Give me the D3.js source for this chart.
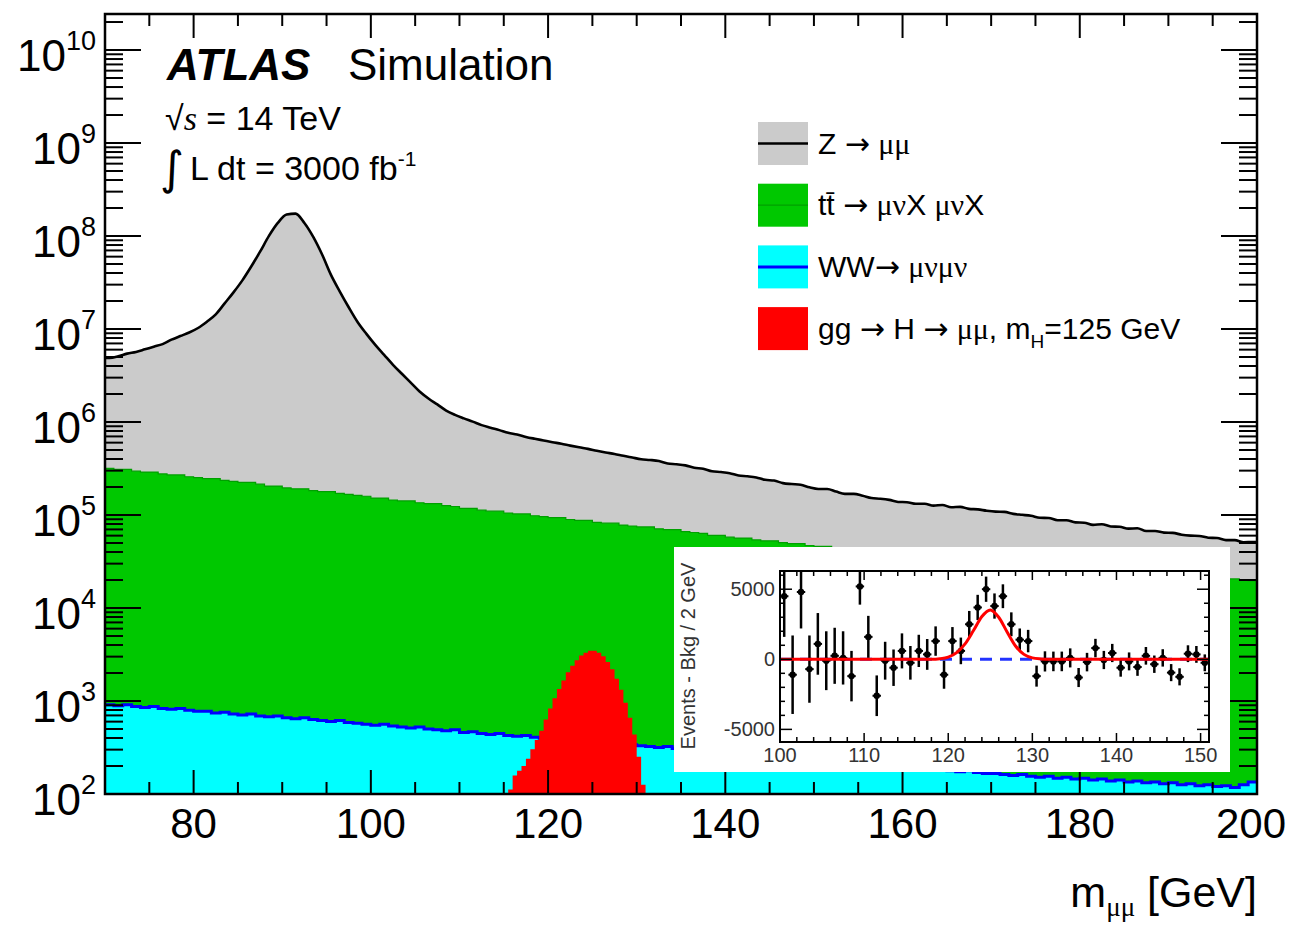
<!DOCTYPE html>
<html>
<head>
<meta charset="utf-8">
<script src="https://cdn.jsdelivr.net/npm/d3@7"></script>
<style>
    body { margin: 0; background: #fff; }
    text { font-family: "Liberation Sans", Arial, Helvetica, sans-serif; fill: #000; }
    .greek { font-family: "Liberation Serif", "Times New Roman", serif; }
    .arrow { font-family: "DejaVu Sans", sans-serif; }
</style>
</head>
<body>
<svg id="chart" width="1292" height="926"></svg>
<script>
// ---- data ----

// main histogram binning: 1 GeV bins from 70 to 200 GeV
const massLow = 70, massStep = 1;

// log10 of events per bin, one entry per bin
const zLog = [
    6.66, 6.68, 6.71, 6.73, 6.76, 6.79, 6.82, 6.87, 6.91, 6.95,
    7.00, 7.07, 7.15, 7.27, 7.39, 7.52, 7.67, 7.83, 8.00, 8.14,
    8.23, 8.24, 8.14, 7.99, 7.80, 7.58, 7.40, 7.23, 7.07, 6.94,
    6.82, 6.71, 6.60, 6.50, 6.40, 6.30, 6.22, 6.15, 6.08, 6.03,
    5.99, 5.95, 5.91, 5.88, 5.85, 5.82, 5.80, 5.77, 5.75, 5.73,
    5.71, 5.69, 5.67, 5.65, 5.63, 5.61, 5.59, 5.57, 5.55, 5.53,
    5.51, 5.50, 5.49, 5.46, 5.45, 5.44, 5.41, 5.40, 5.37, 5.36,
    5.35, 5.32, 5.31, 5.30, 5.27, 5.26, 5.23, 5.22, 5.21, 5.18,
    5.16, 5.16, 5.13, 5.10, 5.10, 5.08, 5.05, 5.04, 5.03, 5.00,
    5.00, 4.98, 4.98, 4.96, 4.97, 4.94, 4.95, 4.92, 4.92, 4.90,
    4.89, 4.89, 4.86, 4.85, 4.84, 4.81, 4.81, 4.78, 4.78, 4.75,
    4.75, 4.72, 4.73, 4.70, 4.70, 4.67, 4.68, 4.64, 4.64, 4.62,
    4.62, 4.59, 4.58, 4.58, 4.55, 4.55, 4.52, 4.52, 4.49, 4.50
];
const ttLog = [
    5.50, 5.49, 5.49, 5.47, 5.46, 5.46, 5.44, 5.43, 5.43, 5.41,
    5.40, 5.39, 5.39, 5.37, 5.36, 5.35, 5.35, 5.33, 5.31, 5.31,
    5.29, 5.28, 5.28, 5.26, 5.25, 5.25, 5.23, 5.22, 5.21, 5.20,
    5.18, 5.18, 5.16, 5.15, 5.15, 5.13, 5.12, 5.12, 5.10, 5.09,
    5.07, 5.07, 5.05, 5.04, 5.04, 5.02, 5.01, 5.01, 4.99, 4.98,
    4.97, 4.97, 4.95, 4.94, 4.94, 4.92, 4.91, 4.91, 4.89, 4.88,
    4.87, 4.87, 4.85, 4.84, 4.84, 4.82, 4.81, 4.80, 4.78, 4.78,
    4.76, 4.75, 4.75, 4.73, 4.72, 4.72, 4.70, 4.69, 4.69, 4.67,
    4.66, 4.66, 4.64, 4.63, 4.63, 4.61, 4.60, 4.60, 4.58, 4.58,
    4.57, 4.56, 4.56, 4.54, 4.54, 4.53, 4.52, 4.52, 4.50, 4.50,
    4.49, 4.48, 4.48, 4.47, 4.46, 4.46, 4.45, 4.44, 4.44, 4.43,
    4.42, 4.41, 4.41, 4.40, 4.39, 4.39, 4.38, 4.37, 4.37, 4.36,
    4.35, 4.35, 4.34, 4.33, 4.33, 4.32, 4.31, 4.31, 4.30, 4.29
];
const wwLog = [
    2.96, 2.95, 2.96, 2.94, 2.93, 2.94, 2.92, 2.91, 2.92, 2.90,
    2.89, 2.89, 2.87, 2.88, 2.86, 2.85, 2.86, 2.84, 2.83, 2.84,
    2.82, 2.81, 2.82, 2.80, 2.79, 2.78, 2.79, 2.77, 2.76, 2.75,
    2.74, 2.75, 2.73, 2.72, 2.71, 2.72, 2.70, 2.69, 2.68, 2.69,
    2.66, 2.67, 2.65, 2.64, 2.65, 2.63, 2.62, 2.63, 2.61, 2.60,
    2.59, 2.58, 2.59, 2.57, 2.56, 2.55, 2.56, 2.54, 2.53, 2.53,
    2.52, 2.51, 2.50, 2.51, 2.49, 2.48, 2.47, 2.48, 2.46, 2.45,
    2.44, 2.44, 2.42, 2.43, 2.41, 2.40, 2.41, 2.39, 2.38, 2.37,
    2.37, 2.35, 2.36, 2.34, 2.33, 2.32, 2.33, 2.31, 2.30, 2.30,
    2.29, 2.28, 2.27, 2.28, 2.26, 2.25, 2.24, 2.25, 2.23, 2.22,
    2.22, 2.21, 2.20, 2.21, 2.19, 2.18, 2.19, 2.17, 2.18, 2.16,
    2.17, 2.15, 2.16, 2.14, 2.15, 2.13, 2.14, 2.12, 2.13, 2.11,
    2.12, 2.10, 2.11, 2.09, 2.10, 2.08, 2.09, 2.07, 2.10, 2.13
];

// the higgs signal uses finer 0.5 GeV bins starting at 115.5 GeV
const higgsLow = 115.5, higgsStep = 0.5;
const higgsEvents = [
    112, 158, 178, 200, 240, 302, 380, 479, 631, 832,
    1070, 1350, 1660, 2040, 2400, 2750, 3090, 3310, 3470, 3470,
    3310, 3020, 2630, 2190, 1740, 1320, 955, 661, 437, 251, 126
];

// axis ticks of the main frame
const yExponents = [2, 3, 4, 5, 6, 7, 8, 9, 10];
const xMajorTicks = [80, 100, 120, 140, 160, 180, 200];

// legend entries, top to bottom
const legendKeys = ['z', 'tt', 'ww', 'h'];

// inset: background-subtracted events around the signal, 1 GeV points from 100.5 GeV
const insetLow = 100.5;
const insetDiff = [
    4500, -1100, 4800, -700, 1100, -100, 250, 100, -1200, 5200,
    1600, -2600, -100, -600, 600, -250, 600, 350, 1300, -1100,
    1300, 600, 2500, 3700, 5000, 3800, 4500, 2500, 1400, 1300,
    -1200, -150, -150, -150, 100, -1300, -200, 800, -50, 450,
    -600, -150, -550, 250, -350, 100, -950, -1250, 400, 350,
    -250
];
const insetErr = [
    2900, 2800, 2600, 2400, 2200, 2100, 2000, 1900, 1800, 1300,
    1500, 1450, 1350, 1300, 1250, 1200, 1150, 1100, 1050, 1000,
    1000, 950, 950, 900, 900, 900, 850, 850, 800, 800,
    750, 720, 700, 700, 680, 680, 660, 660, 650, 650,
    640, 640, 630, 630, 620, 620, 610, 610, 600, 600,
    600
];
// signal fit
const fitMass  = [100, 118, 119, 120, 121, 122, 123, 124, 125, 126, 127, 128, 129, 130, 131, 132, 151];
const fitValue = [0, 0, 40, 160, 480, 1100, 2050, 3050, 3520, 3000, 1950, 950, 350, 100, 25, 0, 0];
const insetXTicks = [100, 110, 120, 130, 140, 150];
const insetYTicks = [-5000, 0, 5000];

// ---- drawing ----

const svg = d3.select('#chart');
const yMin = 1e2;

// main frame scales
let x = d3.scaleLinear().domain([70, 200]).range([105, 1257]);
let y = d3.scaleLog().domain([yMin, 2.44e10]).range([794, 14]).clamp(true);

const colors = { z: '#cbcbcb', tt: '#00c800', ww: '#00ffff', h: '#ff0000' };
const lineStyle = { tt: ['#00a000', 1.2], ww: ['#0000ff', 3], z: ['#000', 2.6] };

let defs = svg.append('defs');
defs.append('clipPath').attr('id', 'plotClip')
    .append('rect').attr('x', 105).attr('y', 14).attr('width', 1152).attr('height', 780);

// stack the three backgrounds, WW at the bottom
let bins = zLog.map((v, i) => ({
    lo: massLow + i * massStep,
    hi: massLow + (i + 1) * massStep,
    ww: Math.pow(10, wwLog[i]),
    tt: Math.pow(10, ttLog[i]),
    z: Math.pow(10, v)
}));
let layers = d3.stack().keys(['ww', 'tt', 'z'])(bins);

// corner points of a step histogram (top of a stacked layer)
function steps(layer) {
    let pts = [];
    layer.forEach(d => {
        pts.push({ x: d.data.lo, top: d[1] });
        pts.push({ x: d.data.hi, top: d[1] });
    });
    return pts;
}
// bin centres, padded out to the frame edges, for the smooth Z outline
function centres(layer) {
    let pts = layer.map(d => ({ x: (d.data.lo + d.data.hi) / 2, top: d[1] }));
    pts.unshift({ x: layer[0].data.lo, top: layer[0][1] });
    pts.push({ x: layer[layer.length - 1].data.hi, top: layer[layer.length - 1][1] });
    return pts;
}

let area = d3.area()
    .x(p => x(p.x))
    .y0(y(yMin))
    .y1(p => y(p.top));
let outline = d3.line()
    .x(p => x(p.x))
    .y(p => y(p.top));

let plot = svg.append('g').attr('clip-path', 'url(#plotClip)');

// paint the cumulative tops from the biggest down, so each hides the one below
let zLayer = layers[2], ttLayer = layers[1], wwLayer = layers[0];
plot.append('path').attr('fill', colors.z)
    .attr('d', area.curve(d3.curveMonotoneX)(centres(zLayer)));
plot.append('path').attr('fill', colors.tt)
    .attr('d', area.curve(d3.curveLinear)(steps(ttLayer)));
plot.append('path').attr('fill', colors.ww)
    .attr('d', area.curve(d3.curveLinear)(steps(wwLayer)));

// histogram outlines
plot.append('path').attr('fill', 'none')
    .attr('stroke', lineStyle.tt[0]).attr('stroke-width', lineStyle.tt[1])
    .attr('d', outline.curve(d3.curveLinear)(steps(ttLayer)));
plot.append('path').attr('fill', 'none')
    .attr('stroke', lineStyle.ww[0]).attr('stroke-width', lineStyle.ww[1])
    .attr('d', outline.curve(d3.curveLinear)(steps(wwLayer)));
plot.append('path').attr('fill', 'none')
    .attr('stroke', lineStyle.z[0]).attr('stroke-width', lineStyle.z[1])
    .attr('d', outline.curve(d3.curveMonotoneX)(centres(zLayer)));

// higgs signal, overlaid from the bottom of the frame
let higgsPts = [];
higgsEvents.forEach((v, i) => {
    higgsPts.push({ x: higgsLow + i * higgsStep, top: v });
    higgsPts.push({ x: higgsLow + (i + 1) * higgsStep, top: v });
});
plot.append('path')
    .attr('fill', colors.h)
    .attr('d', area.curve(d3.curveLinear)(higgsPts));

// ---- frame and ticks (ROOT style, inside on all four sides) ----
let axes = svg.append('g').attr('stroke', '#000').attr('stroke-width', 2);

yExponents.forEach(e => {
    for (let k = 1; k <= 9; k++) {
        let v = k * Math.pow(10, e);
        if (v > y.domain()[1]) break;
        let len = k === 1 ? 36 : 18;
        let py = y(v);
        axes.append('line').attr('x1', 105).attr('x2', 105 + len).attr('y1', py).attr('y2', py);
        axes.append('line').attr('x1', 1257).attr('x2', 1257 - len).attr('y1', py).attr('y2', py);
    }
});

d3.range(75, 200, 5).forEach(m => {
    let len = m % 20 === 0 ? 24 : 12;
    axes.append('line').attr('x1', x(m)).attr('x2', x(m)).attr('y1', 794).attr('y2', 794 - len);
    axes.append('line').attr('x1', x(m)).attr('x2', x(m)).attr('y1', 14).attr('y2', 14 + len);
});

svg.append('rect')
    .attr('x', 105).attr('y', 14).attr('width', 1152).attr('height', 780)
    .attr('fill', 'none').attr('stroke', '#000').attr('stroke-width', 2.5);

// tick labels
yExponents.forEach(e => {
    let t = svg.append('text')
        .attr('x', 96).attr('y', y(Math.pow(10, e)) + 21)
        .attr('text-anchor', 'end')
        .style('font-size', '44px');
    t.append('tspan').text('10');
    t.append('tspan').attr('dy', -21).style('font-size', '27px').text(e);
});

// the last label is pulled inside the picture, as ROOT does
svg.selectAll('text.xlabel')
    .data(xMajorTicks)
    .enter().append('text')
        .attr('class', 'xlabel')
        .attr('x', (d, i) => i === xMajorTicks.length - 1 ? 1286 : x(d))
        .attr('y', 838)
        .attr('text-anchor', (d, i) => i === xMajorTicks.length - 1 ? 'end' : 'middle')
        .style('font-size', '42px')
        .text(d => d);

// axis title
let xt = svg.append('text')
    .attr('x', 1257).attr('y', 907)
    .attr('text-anchor', 'end')
    .style('font-size', '43px');
xt.append('tspan').text('m');
xt.append('tspan').attr('dy', 9).attr('class', 'greek').style('font-size', '27px').text('μμ');
xt.append('tspan').attr('dy', -9).text(' [GeV]');

// ---- labels ----
svg.append('text')
    .attr('x', 167).attr('y', 80)
    .style('font-size', '44px').style('font-weight', 'bold').style('font-style', 'italic')
    .text('ATLAS');
svg.append('text')
    .attr('x', 348).attr('y', 80)
    .style('font-size', '44px')
    .text('Simulation');

let rs = svg.append('text').attr('x', 165).attr('y', 130).style('font-size', '34px');
rs.append('tspan').text('√');
rs.append('tspan').attr('class', 'greek').style('font-style', 'italic').text('s');
rs.append('tspan').text(' = 14 TeV');

svg.append('text')
    .attr('x', 160).attr('y', 184)
    .style('font-size', '46px').style('font-family', '"DejaVu Sans", sans-serif')
    .text('∫');
let lum = svg.append('text').attr('x', 190).attr('y', 180).style('font-size', '34px');
lum.append('tspan').text('L dt = 3000 fb');
lum.append('tspan').attr('dy', -14).style('font-size', '21px').text('-1');

// ---- legend ----
// each label as [text, class, dy, size] pieces
const legendText = {
    z:  [['Z '], ['→', 'arrow'], [' '], ['μμ', 'greek']],
    tt: [['tt\u0304 '], ['→', 'arrow'], [' '], ['μν', 'greek'], ['X '], ['μν', 'greek'], ['X']],
    ww: [['WW'], ['→', 'arrow'], [' '], ['μνμν', 'greek']],
    h:  [['gg '], ['→', 'arrow'], [' H '], ['→', 'arrow'], [' '], ['μμ', 'greek'], [', m'],
         ['H', null, 9, '19px'], ['=125 GeV', null, -9]]
};

let legend = svg.append('g');
legendKeys.forEach((key, i) => {
    let cy = 143.5 + i * 61.7;
    legend.append('rect')
        .attr('x', 758).attr('y', cy - 21.5).attr('width', 50).attr('height', 43)
        .attr('fill', colors[key]);
    if (lineStyle[key])
        legend.append('line')
            .attr('x1', 758).attr('x2', 808).attr('y1', cy).attr('y2', cy)
            .attr('stroke', lineStyle[key][0]).attr('stroke-width', lineStyle[key][1]);
    let t = legend.append('text').attr('x', 818).attr('y', cy + 10).style('font-size', '30px');
    legendText[key].forEach(p => {
        let s = t.append('tspan').text(p[0]);
        if (p[1]) s.attr('class', p[1]);
        if (p[2]) s.attr('dy', p[2]);
        if (p[3]) s.style('font-size', p[3]);
    });
});

// ---- inset ----
let inset = svg.append('g');
inset.append('rect')
    .attr('x', 674).attr('y', 547).attr('width', 556).attr('height', 225)
    .attr('fill', '#fff');

let ix = d3.scaleLinear().domain([100, 151]).range([780, 1209]);
let iy = d3.scaleLinear().domain([-5900, 6300]).range([742, 571]);

defs.append('clipPath').attr('id', 'insetClip')
    .append('rect').attr('x', 780).attr('y', 571).attr('width', 429).attr('height', 171);

let inner = inset.append('g').attr('clip-path', 'url(#insetClip)');

// background-only expectation
inner.append('line')
    .attr('x1', ix(100)).attr('x2', ix(151)).attr('y1', iy(0)).attr('y2', iy(0))
    .attr('stroke', '#2233ff').attr('stroke-width', 3).attr('stroke-dasharray', '12,8');

// data points with error bars
let pts = inner.selectAll('g.pt')
    .data(insetDiff.map((v, i) => ({ m: insetLow + i, v: v, e: insetErr[i] })))
    .enter().append('g').attr('class', 'pt');
pts.append('line')
    .attr('x1', d => ix(d.m)).attr('x2', d => ix(d.m))
    .attr('y1', d => iy(d.v - d.e)).attr('y2', d => iy(d.v + d.e))
    .attr('stroke', '#000').attr('stroke-width', 2.5);
pts.append('line')
    .attr('x1', d => ix(d.m - 0.5)).attr('x2', d => ix(d.m + 0.5))
    .attr('y1', d => iy(d.v)).attr('y2', d => iy(d.v))
    .attr('stroke', '#000').attr('stroke-width', 2);
pts.append('circle')
    .attr('cx', d => ix(d.m)).attr('cy', d => iy(d.v)).attr('r', 3.2)
    .attr('fill', '#000');

// signal + background fit
inner.append('path')
    .datum(fitMass.map((m, i) => [m, fitValue[i]]))
    .attr('fill', 'none').attr('stroke', '#ff0000').attr('stroke-width', 3)
    .attr('d', d3.line().x(d => ix(d[0])).y(d => iy(d[1])).curve(d3.curveMonotoneX));

// inset frame and ticks
let iaxes = inset.append('g').attr('stroke', '#000').attr('stroke-width', 1.5);
d3.range(100, 152, 2).forEach(m => {
    let len = m % 10 === 0 ? 9 : 5;
    iaxes.append('line').attr('x1', ix(m)).attr('x2', ix(m)).attr('y1', 742).attr('y2', 742 - len);
    iaxes.append('line').attr('x1', ix(m)).attr('x2', ix(m)).attr('y1', 571).attr('y2', 571 + len);
});
d3.range(-5000, 6001, 1000).forEach(v => {
    let len = v % 5000 === 0 ? 12 : 5;
    iaxes.append('line').attr('x1', 780).attr('x2', 780 + len).attr('y1', iy(v)).attr('y2', iy(v));
    iaxes.append('line').attr('x1', 1209).attr('x2', 1209 - len).attr('y1', iy(v)).attr('y2', iy(v));
});
inset.append('rect')
    .attr('x', 780).attr('y', 571).attr('width', 429).attr('height', 171)
    .attr('fill', 'none').attr('stroke', '#000').attr('stroke-width', 2);

inset.selectAll('text.ix')
    .data(insetXTicks)
    .enter().append('text')
        .attr('class', 'ix')
        .attr('x', d => ix(d)).attr('y', 762)
        .attr('text-anchor', 'middle')
        .style('font-size', '20px').style('fill', '#333')
        .text(d => d);
inset.selectAll('text.iy')
    .data(insetYTicks)
    .enter().append('text')
        .attr('class', 'iy')
        .attr('x', 775).attr('y', d => iy(d) + 7)
        .attr('text-anchor', 'end')
        .style('font-size', '20px').style('fill', '#333')
        .text(d => d);
inset.append('text')
    .attr('transform', 'translate(695,656) rotate(-90)')
    .attr('text-anchor', 'middle')
    .style('font-size', '20px').style('fill', '#333')
    .text('Events - Bkg / 2 GeV');
</script>
</body>
</html>
